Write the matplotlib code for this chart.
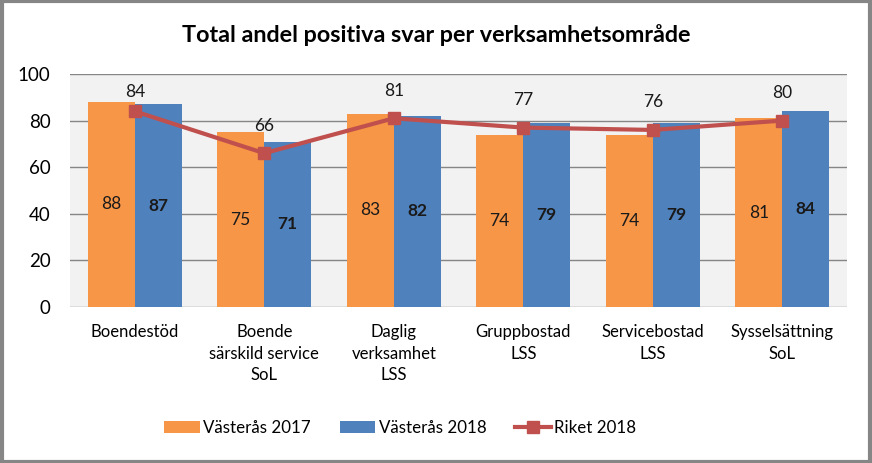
import numpy as np
import matplotlib
matplotlib.use('Agg')
from matplotlib import pyplot as plt
from matplotlib.patches import Rectangle

plt.rcParams['font.family'] = ['Lato', 'DejaVu Sans']

categories = ['Boendestöd', 'Boende\nsärskild service\nSoL', 'Daglig\nverksamhet\nLSS',
              'Gruppbostad\nLSS', 'Servicebostad\nLSS', 'Sysselsättning\nSoL']
vasteras_2017 = [88, 75, 83, 74, 74, 81]
vasteras_2018 = [87, 71, 82, 79, 79, 84]
riket_2018 = [84, 66, 81, 77, 76, 80]

ORANGE = '#F79646'
BLUE = '#4F81BD'
RED = '#C0504D'

fig = plt.figure(figsize=(8.72, 4.63), dpi=100)
ax = fig.add_axes([70 / 872, 1 - 307 / 463, 777 / 872, 233 / 463])
ax.set_facecolor('#F2F2F2')

x = np.arange(len(categories))
w = 0.363
ax.bar(x - w / 2, vasteras_2017, w, color=ORANGE, label='Västerås 2017', zorder=2)
ax.bar(x + w / 2, vasteras_2018, w, color=BLUE, label='Västerås 2018', zorder=2)
ax.plot(x, riket_2018, color=RED, lw=3, marker='s', markersize=8, label='Riket 2018', zorder=3)

for xi, v in zip(x, vasteras_2017):
    ax.text(xi - w / 2, v / 2, str(v), ha='center', va='center', fontsize=12.5, color='#1a1a1a')
for xi, v in zip(x, vasteras_2018):
    ax.text(xi + w / 2, v / 2, str(v), ha='center', va='center', fontsize=12.5,
            fontweight='bold', color='#1a1a1a')
for i, v in enumerate(riket_2018):
    off = 8 if i == 0 else 14
    ax.annotate(str(v), (x[i], v), xytext=(0, off), textcoords='offset points',
                ha='center', va='bottom', fontsize=12.5, color='#1a1a1a')

ax.set_xlim(-0.5, len(categories) - 0.5)
ax.set_ylim(0, 100)
ax.set_yticks(range(0, 101, 20))
ax.yaxis.grid(True, color='#868686', lw=1)
ax.set_axisbelow(True)
for s in ax.spines.values():
    s.set_visible(False)
ax.tick_params(axis='both', length=0, labelsize=13.5)
ax.tick_params(axis='y', pad=14)
ax.tick_params(axis='x', pad=12)
ax.set_xticks(x)
ax.set_xticklabels(categories, fontsize=12, linespacing=1.45)

fig.text(0.5, 1 - 35 / 463, 'Total andel positiva svar per verksamhetsområde',
         ha='center', va='center', fontsize=16.8, fontweight='bold')

handles, labels = ax.get_legend_handles_labels()
order = [labels.index('Västerås 2017'), labels.index('Västerås 2018'), labels.index('Riket 2018')]
fig.legend([handles[i] for i in order], [labels[i] for i in order],
           loc='center', bbox_to_anchor=(0.459, 1 - 428 / 463), ncol=3, frameon=False,
           fontsize=12.2, handlelength=2.1, handletextpad=0.2, columnspacing=1.7)

fig.patches.append(Rectangle((0.002, 0.003), 0.996, 0.994, transform=fig.transFigure,
                             fill=False, edgecolor='#868686', lw=3))

fig.savefig('out.png', dpi=100)
